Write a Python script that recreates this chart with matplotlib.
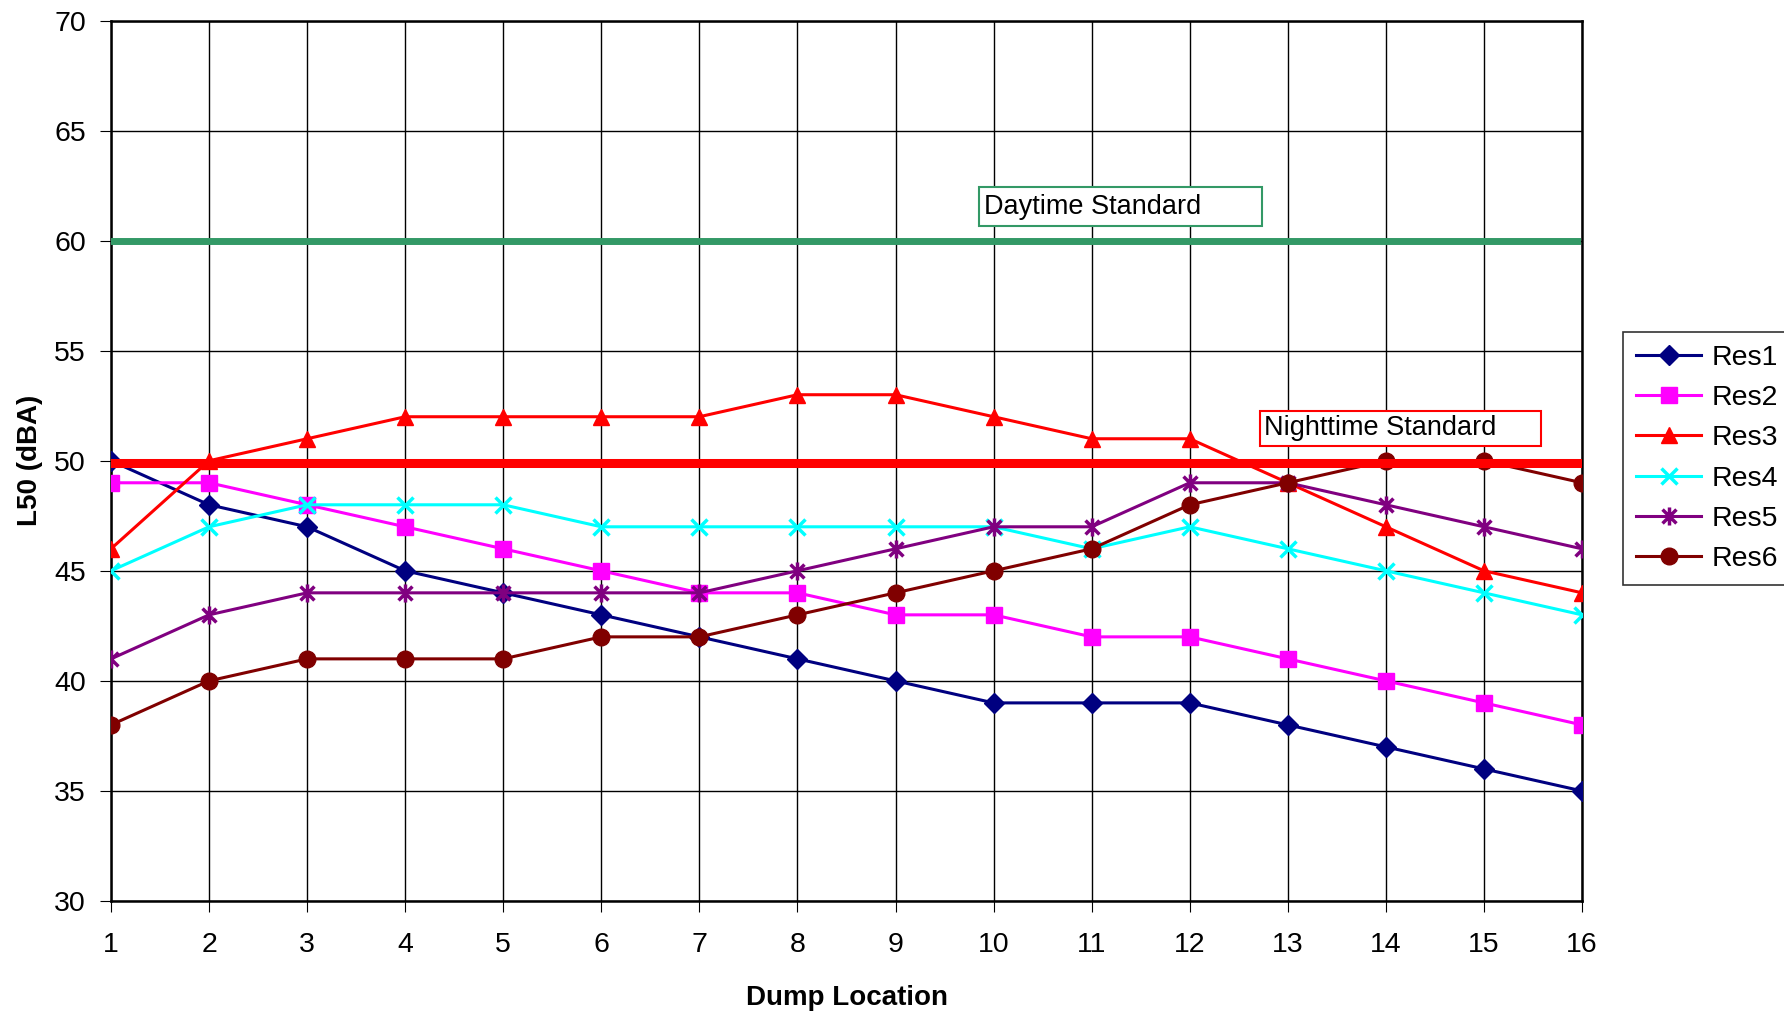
import numpy as np
import matplotlib.pyplot as plt
from matplotlib.path import Path
from matplotlib.patches import Rectangle

plt.rcParams['font.family'] = ['Liberation Sans', 'DejaVu Sans']

locations = list(range(1, 17))
res1 = [50, 48, 47, 45, 44, 43, 42, 41, 40, 39, 39, 39, 38, 37, 36, 35]
res2 = [49, 49, 48, 47, 46, 45, 44, 44, 43, 43, 42, 42, 41, 40, 39, 38]
res3 = [46, 50, 51, 52, 52, 52, 52, 53, 53, 52, 51, 51, 49, 47, 45, 44]
res4 = [45, 47, 48, 48, 48, 47, 47, 47, 47, 47, 46, 47, 46, 45, 44, 43]
res5 = [41, 43, 44, 44, 44, 44, 44, 45, 46, 47, 47, 49, 49, 48, 47, 46]
res6 = [38, 40, 41, 41, 41, 42, 42, 43, 44, 45, 46, 48, 49, 50, 50, 49]
names = ['Res1', 'Res2', 'Res3', 'Res4', 'Res5', 'Res6']
day_std = 60
night_std = 49.9

# excel style star: an x with a vertical bar through it
star = Path([(-1, -1), (1, 1), (-1, 1), (1, -1), (0, -1.3), (0, 1.3)],
            [Path.MOVETO, Path.LINETO, Path.MOVETO, Path.LINETO, Path.MOVETO, Path.LINETO])

series = [res1, res2, res3, res4, res5, res6]
colors = ['#000080', '#FF00FF', '#FF0000', '#00FFFF', '#800080', '#800000']
markers = ['D', 's', '^', 'x', star, 'o']
msizes = [10.5, 12, 12, 12, 13, 12]
medges = [1, 1, 1, 2.5, 2.5, 1]

fig = plt.figure(figsize=(17.84, 10.11), dpi=100)
ax = fig.add_axes([0.0622, 0.1088, 0.8246, 0.8709])

for ys, c, m, ms, me, n in zip(series, colors, markers, msizes, medges, names):
    ax.plot(locations, ys, color=c, marker=m, markersize=ms, lw=2.2,
            markeredgewidth=me, label=n, zorder=3)

ax.plot([1, 15.95], [day_std, day_std], color='#339966', lw=5, zorder=4)
ax.plot([1, 15.95], [night_std, night_std], color='#FF0000', lw=6.5, zorder=4)

# label boxes
ax.add_patch(Rectangle((9.85, 60.66), 2.89, 1.78, fc='white', ec='#339966', lw=1.5, zorder=5))
ax.text(9.9, 61.55, 'Daytime Standard', fontsize=19.5, va='center', ha='left', zorder=6)
ax.add_patch(Rectangle((12.72, 50.67), 2.86, 1.59, fc='white', ec='#FF0000', lw=1.5, zorder=5))
ax.text(12.76, 51.47, 'Nighttime Standard', fontsize=19.5, va='center', ha='left', zorder=6)

ax.set_xlim(1, 16)
ax.set_ylim(30, 70)
ax.set_xticks(locations)
ax.set_yticks(np.arange(30, 71, 5))
ax.grid(True, color='black', lw=1)
ax.tick_params(labelsize=20.5, length=8, direction='out')
ax.tick_params(axis='x', pad=14)
ax.tick_params(axis='y', pad=10)
for s in ax.spines.values():
    s.set_linewidth(1.8)

ax.set_xlabel('Dump Location', fontsize=20, fontweight='bold', labelpad=20)
ax.set_ylabel('L50 (dBA)', fontsize=20, fontweight='bold', labelpad=8)

leg = ax.legend(loc='upper left', bbox_to_anchor=(0.9098, 0.6716), bbox_transform=fig.transFigure,
                fontsize=20.5, frameon=True, fancybox=False, edgecolor='black', handlelength=2.3,
                borderpad=0.45, labelspacing=0.5, handletextpad=0.35, borderaxespad=0)
leg.get_frame().set_linewidth(1.2)

fig.savefig('out.png', dpi=100)
